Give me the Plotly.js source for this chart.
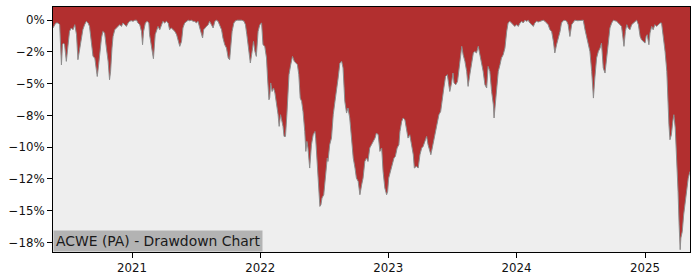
<!DOCTYPE html>
<html>
<head>
<meta charset="utf-8">
<script src="https://cdn.plot.ly/plotly-3.0.1.min.js"></script>
<style>html,body{margin:0;padding:0;background:#fff;}#chart{width:700px;height:280px;}</style>
</head>
<body>
<div id="chart"></div>
<script>
const chartTitle = "ACWE (PA) - Drawdown Chart";

const dates = [
"2020-05-21","2020-05-29","2020-06-04","2020-06-09","2020-06-14","2020-06-17","2020-06-20","2020-06-23","2020-06-28","2020-07-03",
"2020-07-07","2020-07-12","2020-07-17","2020-07-22","2020-07-27","2020-07-31","2020-08-05","2020-08-10","2020-08-14","2020-08-19",
"2020-08-24","2020-08-29","2020-09-02","2020-09-07","2020-09-12","2020-09-17","2020-09-22","2020-09-24","2020-09-28","2020-10-01",
"2020-10-06","2020-10-10","2020-10-15","2020-10-20","2020-10-25","2020-10-29","2020-11-01","2020-11-05","2020-11-08","2020-11-13",
"2020-11-18","2020-11-22","2020-11-27","2020-12-02","2020-12-06","2020-12-11","2020-12-16","2020-12-21","2020-12-25","2020-12-30",
"2021-01-04","2021-01-09","2021-01-14","2021-01-18","2021-01-23","2021-01-28","2021-01-31","2021-02-03","2021-02-08","2021-02-13",
"2021-02-18","2021-02-20","2021-02-25","2021-03-03","2021-03-08","2021-03-12","2021-03-16","2021-03-21","2021-03-26","2021-03-30",
"2021-04-04","2021-04-09","2021-04-14","2021-04-18","2021-04-23","2021-04-28","2021-05-03","2021-05-08","2021-05-12","2021-05-17",
"2021-05-22","2021-05-26","2021-05-31","2021-06-05","2021-06-10","2021-06-14","2021-06-19","2021-06-24","2021-06-29","2021-07-03",
"2021-07-08","2021-07-13","2021-07-18","2021-07-21","2021-07-24","2021-07-27","2021-08-01","2021-08-06","2021-08-10","2021-08-15",
"2021-08-20","2021-08-25","2021-08-29","2021-09-03","2021-09-08","2021-09-13","2021-09-17","2021-09-22","2021-09-27","2021-10-02",
"2021-10-06","2021-10-09","2021-10-13","2021-10-18","2021-10-23","2021-10-28","2021-11-04","2021-11-10","2021-11-16","2021-11-20",
"2021-11-24","2021-11-28","2021-12-02","2021-12-04","2021-12-09","2021-12-13","2021-12-17","2021-12-21","2021-12-26","2021-12-31",
"2022-01-05","2022-01-09","2022-01-14","2022-01-19","2022-01-22","2022-01-26","2022-01-28","2022-01-31","2022-02-04","2022-02-08",
"2022-02-12","2022-02-16","2022-02-21","2022-02-24","2022-02-28","2022-03-03","2022-03-07","2022-03-10","2022-03-14","2022-03-18",
"2022-03-21","2022-03-24","2022-03-29","2022-04-03","2022-04-08","2022-04-12","2022-04-17","2022-04-21","2022-04-25","2022-04-29",
"2022-05-03","2022-05-08","2022-05-11","2022-05-14","2022-05-17","2022-05-22","2022-05-27","2022-06-01","2022-06-06","2022-06-08",
"2022-06-12","2022-06-15","2022-06-20","2022-06-23","2022-06-26","2022-07-01","2022-07-06","2022-07-11","2022-07-13","2022-07-18",
"2022-07-23","2022-07-28","2022-08-02","2022-08-06","2022-08-11","2022-08-16","2022-08-21","2022-08-25","2022-08-30","2022-09-04",
"2022-09-08","2022-09-13","2022-09-18","2022-09-23","2022-09-28","2022-10-02","2022-10-07","2022-10-12","2022-10-17","2022-10-21",
"2022-10-26","2022-10-31","2022-11-04","2022-11-09","2022-11-14","2022-11-19","2022-11-24","2022-11-28","2022-12-03","2022-12-08",
"2022-12-13","2022-12-17","2022-12-22","2022-12-27","2022-12-30","2023-01-02","2023-01-07","2023-01-12","2023-01-17","2023-01-21",
"2023-01-26","2023-01-31","2023-02-03","2023-02-08","2023-02-12","2023-02-17","2023-02-22","2023-02-26","2023-03-03","2023-03-08",
"2023-03-13","2023-03-16","2023-03-22","2023-03-27","2023-04-01","2023-04-06","2023-04-10","2023-04-15","2023-04-20","2023-04-24",
"2023-04-29","2023-05-02","2023-05-06","2023-05-11","2023-05-15","2023-05-20","2023-05-25","2023-05-30","2023-06-03","2023-06-08",
"2023-06-13","2023-06-18","2023-06-22","2023-06-25","2023-06-30","2023-07-04","2023-07-07","2023-07-12","2023-07-17","2023-07-22",
"2023-07-26","2023-07-29","2023-08-02","2023-08-07","2023-08-12","2023-08-16","2023-08-21","2023-08-26","2023-08-31","2023-09-04",
"2023-09-09","2023-09-14","2023-09-19","2023-09-24","2023-09-28","2023-10-03","2023-10-08","2023-10-12","2023-10-17","2023-10-22",
"2023-10-27","2023-10-29","2023-11-02","2023-11-06","2023-11-10","2023-11-15","2023-11-19","2023-11-24","2023-11-29","2023-12-04",
"2023-12-08","2023-12-13","2023-12-18","2023-12-23","2023-12-27","2024-01-01","2024-01-06","2024-01-11","2024-01-16","2024-01-20",
"2024-01-25","2024-01-30","2024-02-03","2024-02-08","2024-02-13","2024-02-18","2024-02-22","2024-02-27","2024-03-03","2024-03-08",
"2024-03-13","2024-03-17","2024-03-22","2024-03-27","2024-03-31","2024-04-05","2024-04-10","2024-04-15","2024-04-19","2024-04-24",
"2024-04-29","2024-05-04","2024-05-08","2024-05-13","2024-05-18","2024-05-23","2024-05-27","2024-06-01","2024-06-06","2024-06-11",
"2024-06-15","2024-06-23","2024-06-30","2024-07-09","2024-07-14","2024-07-19","2024-07-23","2024-07-28","2024-08-02","2024-08-07",
"2024-08-11","2024-08-16","2024-08-21","2024-08-26","2024-08-30","2024-09-04","2024-09-09","2024-09-14","2024-09-18","2024-09-23",
"2024-09-28","2024-10-03","2024-10-07","2024-10-12","2024-10-17","2024-10-22","2024-10-26","2024-10-29","2024-11-02","2024-11-06",
"2024-11-10","2024-11-14","2024-11-19","2024-11-24","2024-11-29","2024-12-03","2024-12-08","2024-12-13","2024-12-18","2024-12-22",
"2024-12-27","2025-01-01","2025-01-04","2025-01-07","2025-01-12","2025-01-15","2025-01-20","2025-01-24","2025-01-29","2025-02-03",
"2025-02-08","2025-02-13","2025-02-17","2025-02-22","2025-02-27","2025-03-04","2025-03-07","2025-03-10","2025-03-13","2025-03-17",
"2025-03-21","2025-03-24","2025-03-28","2025-04-01","2025-04-05","2025-04-08","2025-04-11","2025-04-13","2025-04-17","2025-04-21",
"2025-04-25","2025-04-30","2025-05-04","2025-05-09"
];

const drawdownPct = [
-0.61,-0.22,-0.22,-0.35,-3.52,-1.93,-1.80,-1.93,-3.24,-1.67,
-0.88,-0.61,-0.75,-0.35,-1.14,-3.11,-2.19,-1.40,-0.75,-0.35,
-0.09,-0.22,-0.49,-1.67,-2.85,-2.98,-3.90,-4.43,-3.50,-2.46,
-1.40,-0.88,-1.01,-2.19,-3.24,-4.69,-4.03,-2.19,-1.28,-0.75,
-0.61,-0.49,-0.35,-0.49,-0.22,-0.35,-0.49,-0.22,-0.09,-0.04,
-0.09,0,0,-0.22,-0.35,-0.88,-1.93,-0.88,-0.22,-0.09,
-0.22,-1.14,-2.19,-3.03,-1.14,-0.88,-0.49,-0.75,-0.35,-0.09,
-0.22,-0.09,-0.22,-0.75,-0.61,-0.75,-0.88,-1.14,-1.67,-2.06,
-1.67,-0.61,-0.22,-0.09,0,-0.04,0,-0.09,-0.09,-0.22,
-0.09,-0.61,-1.28,-1.40,-0.75,-0.61,-0.49,-0.35,-0.09,-0.35,
-0.61,-0.09,0,-0.09,-0.49,-0.75,-1.40,-1.93,-2.19,-2.98,
-3.11,-2.19,-0.88,-0.22,-0.04,0,0,0,-0.09,-0.35,
-1.14,-2.19,-2.72,-3.37,-2.46,-1.67,-2.46,-2.85,-0.88,-0.35,
-0.22,-1.93,-2.06,-2.98,-4.55,-6.26,-6.13,-4.94,-5.61,-5.34,
-5.73,-6.39,-7.44,-8.36,-7.44,-7.83,-8.36,-9.15,-9.15,-7.44,
-5.34,-4.29,-3.50,-2.85,-3.24,-3.37,-3.50,-4.29,-6.13,-6.39,
-7.18,-8.76,-10.33,-9.54,-10.06,-11.64,-9.80,-9.02,-8.76,-9.28,
-11.38,-12.95,-14.66,-14.53,-14.00,-13.74,-11.91,-10.85,-11.12,-9.80,
-9.28,-7.44,-6.39,-5.73,-4.55,-3.37,-3.24,-3.76,-6.39,-7.31,
-6.91,-7.70,-9.28,-10.85,-11.64,-12.43,-12.69,-13.74,-12.95,-12.43,
-11.12,-10.85,-11.12,-10.06,-9.80,-9.54,-9.28,-8.88,-9.02,-10.33,
-10.06,-11.91,-13.21,-13.74,-13.48,-12.43,-11.91,-11.38,-10.85,-10.72,
-10.06,-9.80,-8.76,-7.97,-7.70,-7.83,-8.49,-9.28,-9.02,-9.80,
-10.59,-11.64,-11.50,-11.64,-10.59,-10.06,-9.94,-9.54,-9.15,-9.80,
-10.33,-10.59,-10.06,-9.28,-8.76,-7.97,-7.44,-7.18,-6.13,-5.34,
-4.43,-4.29,-5.08,-5.61,-4.94,-4.16,-4.94,-5.08,-4.82,-3.76,
-2.72,-2.06,-2.72,-3.24,-4.03,-5.21,-4.29,-3.50,-2.58,-2.46,
-2.58,-2.06,-2.72,-3.50,-4.03,-5.08,-5.34,-3.64,-4.03,-5.61,
-6.65,-7.70,-6.65,-5.08,-4.03,-3.50,-2.98,-2.72,-2.19,-0.88,
-0.22,-0.09,-0.22,-0.35,-0.49,-0.35,-0.49,-0.22,-0.09,-0.22,
0,-0.09,0,-0.22,-0.35,-0.49,-0.22,-0.09,-0.14,-0.09,
-0.04,0,-0.09,-0.22,-0.35,-0.75,-0.88,-1.67,-2.58,-1.93,
-1.40,-0.88,-0.22,-0.04,0,-0.09,-0.35,-1.28,-0.35,-0.09,
0,-0.04,0,0,-0.75,-1.40,-1.93,-2.46,-4.03,-6.13,
-4.55,-2.98,-2.46,-2.19,-1.80,-3.76,-4.16,-2.72,-1.67,-0.61,
-0.22,0,-0.04,-0.09,-0.22,-0.35,-0.49,-1.14,-2.06,-0.88,
-0.35,-0.61,-0.75,-0.35,-0.22,-0.09,0,-0.35,-1.28,-1.54,
-1.67,-1.80,-1.28,-1.14,-1.93,-1.01,-0.49,-0.75,-0.35,-0.49,
-0.35,-0.22,-0.22,-1.14,-2.46,-4.03,-6.65,-8.23,-9.41,-9.02,
-7.97,-7.44,-8.49,-10.59,-13.48,-16.10,-18.07,-17.15,-16.63,-15.31,
-14.27,-13.21,-12.43,-11.91
];

const yTickVals = [0, -2.5, -5, -7.5, -10, -12.5, -15, -17.5];
const yTickText = ["0%", "\u22122%", "\u22125%", "\u22128%", "\u221210%", "\u221212%", "\u221215%", "\u221218%"];
const xTickVals = ["2021-01-01", "2022-01-01", "2023-01-01", "2024-01-01", "2025-01-01"];
const xTickText = ["2021", "2022", "2023", "2024", "2025"];
const yRange = [-18.25, 1.04];

const baseline = {
  x: [dates[0], dates[dates.length - 1]],
  y: [yRange[0] - 2, yRange[0] - 2],
  mode: "lines", line: {width: 0, color: "rgba(0,0,0,0)"},
  hoverinfo: "skip", showlegend: false
};
const ddTrace = {
  x: dates, y: drawdownPct,
  mode: "lines", fill: "tonexty", fillcolor: "#eeeeee",
  line: {color: "#8c8c8c", width: 1}, showlegend: false
};

const tickFont = {family: "DejaVu Sans, sans-serif", size: 11.8, color: "#111"};
const layout = {
  width: 700, height: 280,
  margin: {l: 53, r: 10, t: 7, b: 28, pad: 0},
  paper_bgcolor: "#ffffff",
  plot_bgcolor: "#b22f2f",
  showlegend: false,
  xaxis: {
    type: "date", autorange: false, range: [dates[0], dates[dates.length - 1]],
    tickvals: xTickVals, ticktext: xTickText,
    showgrid: false, zeroline: false,
    showline: true, mirror: true, linecolor: "#000", linewidth: 1,
    ticks: "outside", ticklen: 5, tickwidth: 1, tickcolor: "#000",
    tickfont: tickFont
  },
  yaxis: {
    autorange: false, range: yRange,
    tickvals: yTickVals, ticktext: yTickText,
    showgrid: false, zeroline: false,
    showline: true, mirror: true, linecolor: "#000", linewidth: 1,
    ticks: "outside", ticklen: 5, tickwidth: 1, tickcolor: "#000",
    tickfont: tickFont
  },
  annotations: [{
    text: chartTitle, xref: "paper", yref: "paper", x: 0, y: 0,
    xanchor: "left", yanchor: "bottom", showarrow: false,
    bgcolor: "#b3b3b3", borderpad: 2,
    font: {family: "DejaVu Sans, sans-serif", size: 13.9, color: "#1a1a1a"}
  }]
};

Plotly.newPlot("chart", [baseline, ddTrace], layout, {displayModeBar: false, staticPlot: true});
</script>
</body>
</html>
